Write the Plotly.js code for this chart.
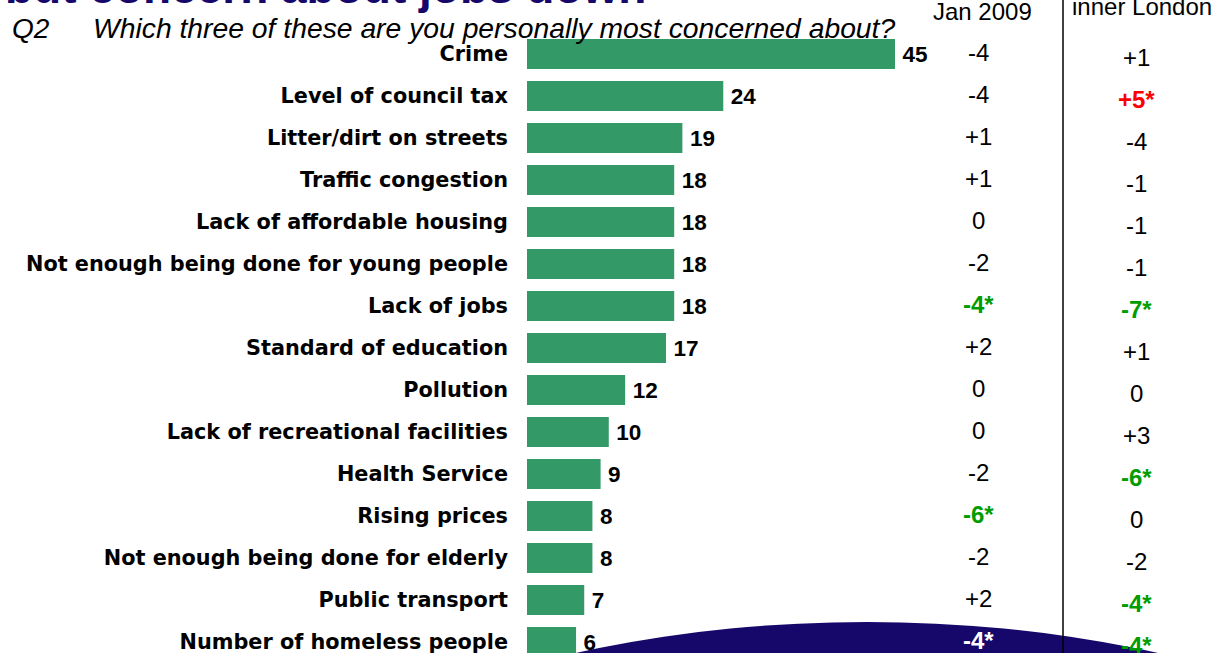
<!DOCTYPE html>
<html>
<head>
<meta charset="utf-8">
<script src="https://cdn.plot.ly/plotly-3.0.1.min.js"></script>
<style>html,body{margin:0;padding:0;background:#fff;}#chart{width:1220px;height:653px;}</style>
</head>
<body>
<div id="chart"></div>
<script>
const categories = [
  "Crime",
  "Level of council tax",
  "Litter/dirt on streets",
  "Traffic congestion",
  "Lack of affordable housing",
  "Not enough being done for young people",
  "Lack of jobs",
  "Standard of education",
  "Pollution",
  "Lack of recreational facilities",
  "Health Service",
  "Rising prices",
  "Not enough being done for elderly",
  "Public transport",
  "Number of homeless people"
];
const shares = [45, 24, 19, 18, 18, 18, 18, 17, 12, 10, 9, 8, 8, 7, 6];
const changeJan2009 = ["-4", "-4", "+1", "+1", "0", "-2", "-4*", "+2", "0", "0", "-2", "-6*", "-2", "+2", "-4*"];
const changeInnerLondon = ["+1", "+5*", "-4", "-1", "-1", "-1", "-7*", "+1", "0", "+3", "-6*", "0", "-2", "-4*", "-4*"];
const headerJan = "Jan 2009";
const headerInner = "inner London";
const titleText = "but concern about jobs down";
const questionNo = "Q2";
const questionText = "Which three of these are you personally most concerned about?";

// geometry of the plot area (pixels)
const W = 1220, H = 653, L = 527, T = 33, R = 0, B = 0;
const PW = W - L - R, PH = H - T - B;
const px = v => (v - L) / PW;
const py = v => 1 - (v - T) / PH;

const navy = "#16076a";
const sigGreen = "#009c00";
const sigRed = "#ff0000";

function colFont(val, onNavy) {
  const sig = val.indexOf("*") >= 0;
  let color = "#000";
  if (sig) color = val[0] === "+" ? sigRed : sigGreen;
  if (onNavy) color = "#fff";
  return {family: "Liberation Sans, Arial, sans-serif", size: 24, color: color, weight: sig ? "bold" : "normal"};
}

const annotations = [];
categories.forEach((c, i) => {
  const last = i === categories.length - 1;
  annotations.push({
    xref: "paper", yref: "y", x: px(978), y: c, yshift: 2,
    text: changeJan2009[i], showarrow: false, xanchor: "center", yanchor: "middle",
    font: colFont(changeJan2009[i], last)
  });
  annotations.push({
    xref: "paper", yref: "y", x: px(1136), y: c, yshift: -3,
    text: changeInnerLondon[i], showarrow: false, xanchor: "center", yanchor: "middle",
    font: colFont(changeInnerLondon[i], false)
  });
});
annotations.push({
  xref: "paper", yref: "paper", x: px(982), y: py(11), text: headerJan, showarrow: false,
  xanchor: "center", yanchor: "middle",
  font: {family: "Liberation Sans, Arial, sans-serif", size: 24, color: "#000"}
});
annotations.push({
  xref: "paper", yref: "paper", x: px(1142), y: py(6), text: headerInner, showarrow: false,
  xanchor: "center", yanchor: "middle",
  font: {family: "Liberation Sans, Arial, sans-serif", size: 24, color: "#000"}
});
annotations.push({
  xref: "paper", yref: "paper", x: px(10), y: py(28), text: questionNo, showarrow: false,
  xanchor: "left", yanchor: "middle",
  font: {family: "Liberation Sans, Arial, sans-serif", size: 28, color: "#000", style: "italic"}
});
annotations.push({
  xref: "paper", yref: "paper", x: px(91), y: py(28), text: questionText, showarrow: false,
  xanchor: "left", yanchor: "middle",
  font: {family: "Liberation Sans, Arial, sans-serif", size: 28.3, color: "#000", style: "italic"}
});
annotations.push({
  xref: "paper", yref: "paper", x: px(648), y: py(-13), text: titleText, showarrow: false,
  xanchor: "right", yanchor: "middle",
  font: {family: "Liberation Sans, Arial, sans-serif", size: 46, color: navy, weight: "bold"}
});

const trace = {
  type: "bar",
  orientation: "h",
  y: categories,
  x: shares,
  texttemplate: "\u2009%{x}",
  textposition: "outside",
  cliponaxis: false,
  constraintext: "none",
  textfont: {family: "Liberation Sans, Arial, sans-serif", size: 22.5, color: "#000", weight: "bold"},
  marker: {color: "#339966", line: {width: 0}},
  hoverinfo: "none"
};

const layout = {
  width: W, height: H,
  margin: {l: L, r: R, t: T, b: B, pad: 0},
  paper_bgcolor: "#ffffff",
  plot_bgcolor: "rgba(0,0,0,0)",
  showlegend: false,
  bargap: 0.286,
  xaxis: {range: [0, PW / (368 / 45)], visible: false, fixedrange: true},
  yaxis: {
    type: "category",
    range: [-0.5 + PH / 42, -0.5],
    showgrid: false, zeroline: false, showline: false, ticks: "",
    ticklabelstandoff: 18,
    automargin: false,
    tickfont: {family: "DejaVu Sans, sans-serif", size: 20.8, color: "#000", weight: "bold"},
    fixedrange: true
  },
  shapes: [
    {type: "circle", xref: "paper", yref: "paper", x0: px(167), x1: px(1567), y0: py(1306), y1: py(622),
     fillcolor: navy, line: {width: 0}, layer: "below"},
    {type: "line", xref: "paper", yref: "paper", x0: px(1063), x1: px(1063), y0: py(0), y1: py(653),
     line: {color: "#000", width: 1.5}, layer: "above"}
  ],
  annotations: annotations
};

Plotly.newPlot("chart", [trace], layout, {displayModeBar: false, staticPlot: true});
</script>
</body>
</html>
